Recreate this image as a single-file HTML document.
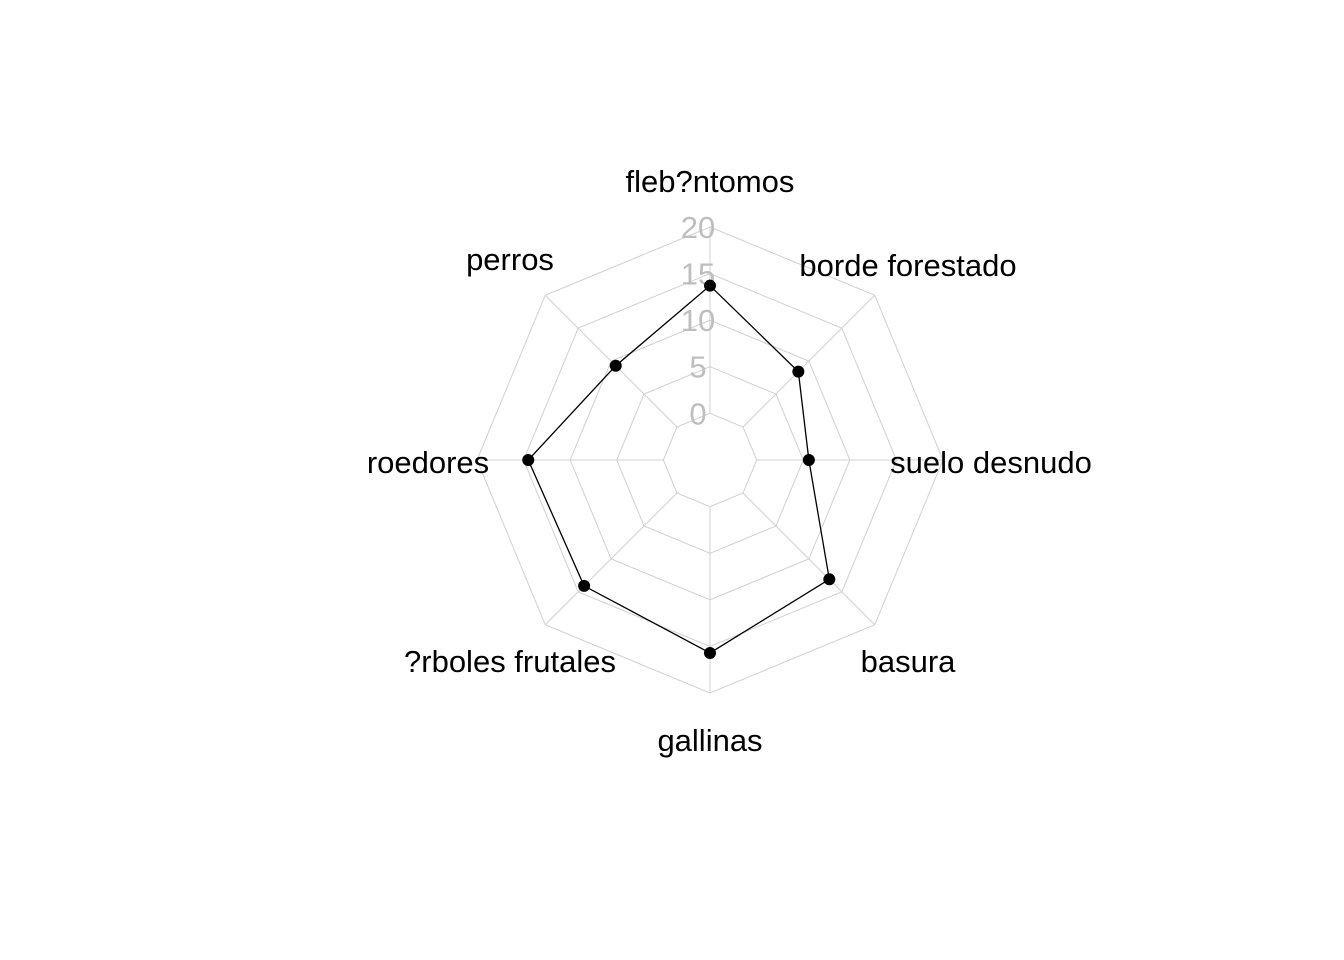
<!DOCTYPE html>
<html><head><meta charset="utf-8"><style>
html,body{margin:0;padding:0;background:#fff;}
svg{display:block;font-family:"Liberation Sans",Arial,sans-serif;}
</style></head><body>
<svg id="chart" width="1344" height="960" viewBox="0 0 1344 960" xmlns="http://www.w3.org/2000/svg">
<rect width="1344" height="960" fill="#fff"/>
<g id="grid"></g>
<g id="ticks"></g>
<g id="series"></g>
<g id="labels"></g>
</svg>
<script>
const categories = ["fleb?ntomos","borde forestado","suelo desnudo","basura","gallinas","?rboles frutales","roedores","perros"];
const values = [13.7, 8.4, 5.6, 13.1, 15.7, 14.1, 14.5, 9.3];
const tickValues = [0, 5, 10, 15, 20];
const tickLabels = ["0","5","10","15","20"];

const NS="http://www.w3.org/2000/svg";
const cx=710, cy=460, r0=46.7, rMax=233, vMax=20;
function rad(v){return r0+(rMax-r0)*v/vMax;}
function ang(i){return -Math.PI/2 + i*2*Math.PI/categories.length;}
function pt(i,r){return [cx+r*Math.cos(ang(i)), cy+r*Math.sin(ang(i))];}
function mk(tag,attrs,parent){const e=document.createElementNS(NS,tag);for(const k in attrs)e.setAttribute(k,attrs[k]);parent.appendChild(e);return e;}

const grid=document.getElementById('grid');
tickValues.forEach((t,k)=>{
  const pts=categories.map((c,i)=>pt(i,rad(t)).join(',')).join(' ');
  const p=mk('polygon',{points:pts,fill:'none',stroke:'#d0d0d0','stroke-width':1},grid);
  
  
});
categories.forEach((c,i)=>{
  const a=pt(i,rad(0)), b=pt(i,rad(vMax));
  const l=mk('line',{x1:a[0],y1:a[1],x2:b[0],y2:b[1],stroke:'#d0d0d0','stroke-width':1},grid);
  
  
});
const ticks=document.getElementById('ticks');
tickValues.forEach((t,k)=>{
  const tx=mk('text',{x:698,y:cy-rad(t)+11,'text-anchor':'middle','font-size':31,fill:'#bebebe'},ticks);
  tx.textContent=tickLabels[k];
  
  
});
const series=document.getElementById('series');
const poly=mk('polygon',{points:values.map((v,i)=>pt(i,rad(v)).join(',')).join(' '),fill:'none',stroke:'#000','stroke-width':1.3},series);


values.forEach((v,i)=>{
  const p=pt(i,rad(v));
  const c=mk('circle',{cx:p[0],cy:p[1],r:6,fill:'#000'},series);
  
  
});
const labels=document.getElementById('labels');
const labelPos=[[710,192],[908,276],[991,473],[908,672],[710,751],[510,672],[428,473],[510,270]];
categories.forEach((c,i)=>{
  const t=mk('text',{x:labelPos[i][0],y:labelPos[i][1],'text-anchor':'middle','font-size':31,fill:'#000'},labels);
  t.textContent=c;
  
  
});
</script>
</body></html>
